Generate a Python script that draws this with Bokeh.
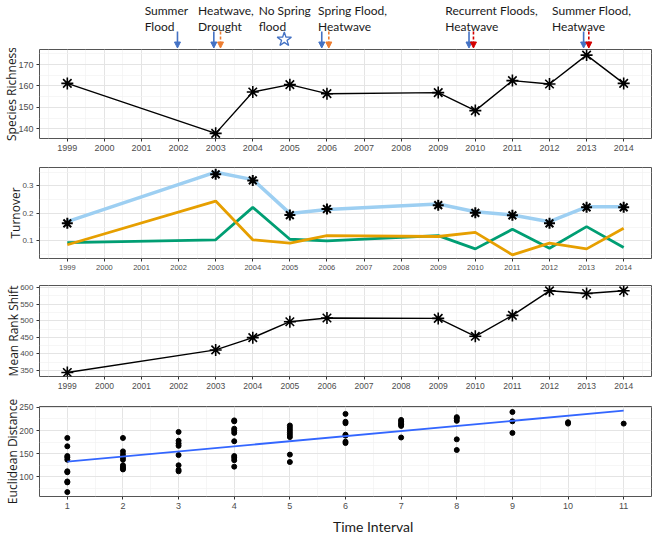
from bokeh.plotting import figure
from bokeh.layouts import column
from bokeh.models import Range1d, FixedTicker, Arrow, NormalHead
from bokeh.core.properties import value
from bokeh.embed import file_html
from bokeh.resources import INLINE

# ---------------- data ----------------
years = [1999, 2003, 2004, 2005, 2006, 2009, 2010, 2011, 2012, 2013, 2014]
year_ticks = list(range(1999, 2015))

richness = [161.2, 137.9, 157.2, 160.6, 156.4, 156.9, 148.5, 162.5, 160.9, 174.4, 161.2]

turnover_total = [0.170, 0.350, 0.323, 0.200, 0.214, 0.234, 0.206, 0.194, 0.170, 0.224, 0.224]
turnover_total_pts = [0.164, 0.342, 0.320, 0.194, 0.216, 0.230, 0.202, 0.193, 0.164, 0.222, 0.222]
turnover_green = [0.094, 0.104, 0.222, 0.106, 0.100, 0.119, 0.071, 0.142, 0.073, 0.152, 0.076]
turnover_orange = [0.086, 0.245, 0.104, 0.092, 0.119, 0.116, 0.131, 0.049, 0.092, 0.071, 0.146]

rank_shift = [344, 412, 449, 497, 508, 507, 453, 516, 590, 582, 590]

intervals = list(range(1, 12))
distance_by_interval = [
    [184, 166, 145, 142, 137, 112, 110, 90, 88, 67],
    [184, 155, 148, 142, 137, 125, 121, 118, 116],
    [197, 178, 172, 167, 147, 125, 115, 112],
    [222, 220, 204, 200, 195, 177, 145, 141, 136, 122],
    [211, 206, 201, 196, 191, 186, 148, 132],
    [236, 219, 216, 191, 189, 176, 173],
    [223, 220, 216, 213, 210, 185],
    [229, 226, 221, 181, 158],
    [240, 220, 195],
    [218, 215],
    [215],
]
fit_x = [1, 11]
fit_y = [133, 243]

y_titles = ["Species Richness", "Turnover", "Mean Rank Shift", "Euclidean Distance"]
x_title = "Time Interval"

event_line1 = ["Summer", "Heatwave,", "No Spring", "Spring Flood,", "Recurrent Floods,", "Summer Flood,"]
event_line2 = ["Flood", "Drought", "flood", "Heatwave", "Heatwave", "Heatwave"]
event_text_year = [2001.085, 2002.525, 2004.16, 2005.76, 2009.19, 2012.07]
flood_arrow_year = [2001.97, 2002.95, 2005.86, 2009.83, 2012.92]
heat_arrow_year = [2003.13, 2006.05]
recurrent_arrow_year = [2009.95, 2013.06]
no_flood_year = [2004.85]

# ---------------- helpers ----------------
GRID = "#E4E4E4"
MINOR = "#F2F2F2"
TICKC = "#4D4D4D"
W = 653


def style(p, xt, xm, yt, ym, title, xfs="9px", yfs="9px"):
    p.xaxis.ticker = FixedTicker(ticks=xt, minor_ticks=xm)
    p.yaxis.ticker = FixedTicker(ticks=yt, minor_ticks=ym)
    for ax, fs in ((p.xaxis, xfs), (p.yaxis, yfs)):
        ax.axis_line_color = None
        ax.major_tick_line_color = "#333333"
        ax.major_tick_out = 3
        ax.major_tick_in = 0
        ax.minor_tick_line_color = None
        ax.major_label_text_font = "Liberation Sans"
        ax.major_label_text_font_size = fs
        ax.major_label_text_color = TICKC
        ax.major_label_standoff = 2
    p.yaxis.axis_label = title
    p.yaxis.axis_label_text_font = "Open Sans"
    p.yaxis.axis_label_text_font_size = "12px"
    p.yaxis.axis_label_text_font_style = "normal"
    p.yaxis.axis_label_text_color = "#1a1a1a"
    p.yaxis.axis_label_standoff = -5
    for g in (p.xgrid, p.ygrid):
        g.grid_line_color = GRID
        g.grid_line_width = 1
        g.minor_grid_line_color = MINOR
        g.minor_grid_line_width = 0.7
    p.outline_line_color = "#555555"
    p.outline_line_width = 1


def make_main(h, top, bottom, left, xr, yr):
    return figure(width=W, height=h, x_range=xr, y_range=yr,
                  output_backend="svg", toolbar_location=None,
                  min_border_left=left, min_border_right=2,
                  min_border_top=top, min_border_bottom=bottom)


half_years = [y + 0.5 for y in range(1998, 2015)]
yr_range = (1998.25, 2014.75)

# ---------------- annotation strip ----------------
p0 = figure(width=W, height=48, x_range=Range1d(*yr_range), y_range=Range1d(0, 48),
            output_backend="svg", toolbar_location=None,
            x_axis_type=None, y_axis_type=None,
            min_border_left=39, min_border_right=2, min_border_top=0, min_border_bottom=0)
p0.outline_line_color = None
p0.xgrid.visible = False
p0.ygrid.visible = False
p0.text(x=event_text_year, y=[38] * len(event_line1), text=event_line1,
        text_font=value("Lato"), text_font_size="12px", text_color="#1a1a1a",
        text_align="left", text_baseline="alphabetic")
p0.text(x=event_text_year, y=[22] * len(event_line2), text=event_line2,
        text_font=value("Lato"), text_font_size="12px", text_color="#1a1a1a",
        text_align="left", text_baseline="alphabetic")

BLUE = "#4472C4"
ORANGE = "#ED7D31"
RED = "#D40000"
for xv in flood_arrow_year:
    p0.add_layout(Arrow(x_start=xv, y_start=17, x_end=xv, y_end=0.5,
                        line_color=BLUE, line_width=1.6,
                        end=NormalHead(size=6, fill_color=BLUE, line_color=BLUE, line_width=1)))
for xv in heat_arrow_year:
    p0.add_layout(Arrow(x_start=xv, y_start=17, x_end=xv, y_end=0.5,
                        line_color=ORANGE, line_width=1.6, line_dash="3 2",
                        end=NormalHead(size=6, fill_color=ORANGE, line_color=ORANGE, line_width=1)))
for xv in recurrent_arrow_year:
    p0.add_layout(Arrow(x_start=xv, y_start=17, x_end=xv, y_end=0.5,
                        line_color=RED, line_width=1.6, line_dash="3 2",
                        end=NormalHead(size=6, fill_color=RED, line_color=RED, line_width=1)))
p0.scatter(x=no_flood_year, y=[9], marker="star", size=15,
           fill_color="white", line_color=BLUE, line_width=1.3)

# ---------------- panel 1: species richness ----------------
p1 = make_main(110, 1, 20, 39, Range1d(*yr_range), Range1d(135.5, 177))
style(p1, year_ticks, half_years, [140, 150, 160, 170], [135, 145, 155, 165, 175], y_titles[0])
p1.line(years, richness, line_color="black", line_width=1.4)
p1.scatter(years, richness, marker="asterisk", size=12, line_color="black", line_width=1.6)

# ---------------- panel 2: turnover ----------------
p2 = make_main(118, 9, 18, 31, Range1d(*yr_range), Range1d(0.036, 0.367))
style(p2, year_ticks, half_years, [0.1, 0.2, 0.3], [0.05, 0.15, 0.25, 0.35], y_titles[1],
      xfs="7.5px", yfs="8px")
p2.line(years, turnover_total, line_color="#9DCFF2", line_width=3.5)
p2.line(years, turnover_green, line_color="#009E73", line_width=2.8)
p2.line(years, turnover_orange, line_color="#E69F00", line_width=2.8)
p2.scatter(years, turnover_total_pts, marker="asterisk", size=11, line_color="black", line_width=2)

# ---------------- panel 3: mean rank shift ----------------
p3 = make_main(120, 9, 20, 34, Range1d(*yr_range), Range1d(332, 606))
style(p3, year_ticks, half_years, [350, 400, 450, 500, 550, 600],
      [375, 425, 475, 525, 575], y_titles[2], xfs="8.5px", yfs="8px")
p3.line(years, rank_shift, line_color="black", line_width=1.4)
p3.scatter(years, rank_shift, marker="asterisk", size=12, line_color="black", line_width=1.6)

# ---------------- panel 4: euclidean distance ----------------
p4 = make_main(116, 10, 16, 34, Range1d(0.5, 11.5), Range1d(57.5, 252))
style(p4, intervals, [i + 0.5 for i in range(0, 12)], [100, 150, 200, 250],
      [75, 125, 175, 225], y_titles[3], xfs="9px", yfs="8.5px")
pts_x = [iv for iv, vals in zip(intervals, distance_by_interval) for _ in vals]
pts_y = [v for vals in distance_by_interval for v in vals]
p4.scatter(pts_x, pts_y, marker="circle", size=5, fill_color="black", line_color="black")
p4.line(fit_x, fit_y, line_color="#3366FF", line_width=1.8)

# ---------------- x title strip ----------------
p5 = figure(width=W, height=22, x_range=Range1d(0, W), y_range=Range1d(0, 22),
            output_backend="svg", toolbar_location=None,
            x_axis_type=None, y_axis_type=None,
            min_border_left=0, min_border_right=0, min_border_top=0, min_border_bottom=0)
p5.outline_line_color = None
p5.xgrid.visible = False
p5.ygrid.visible = False
p5.text(x=[356], y=[8], text=[x_title], text_font=value("Lato"), text_font_size="14px",
        text_color="#1a1a1a", text_align="center", text_baseline="middle")

layout = column(p0, p1, p2, p3, p4, p5)

open("out.html", "w").write(file_html(layout, INLINE))
